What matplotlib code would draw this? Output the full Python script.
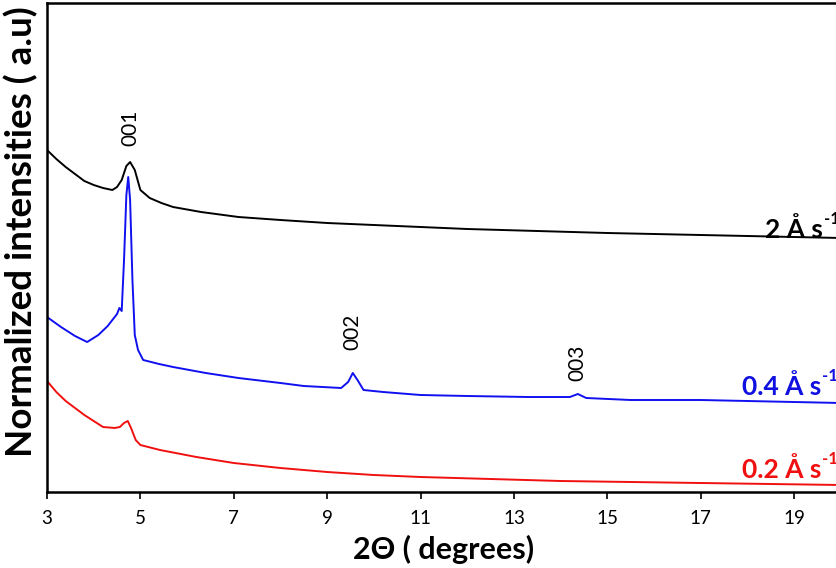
import matplotlib
matplotlib.use("Agg")
import matplotlib.pyplot as plt

plt.rcParams['font.family'] = ['Lato', 'DejaVu Sans']

# 2 Å/s series
x_black = [3.0, 3.2, 3.4, 3.6, 3.8, 4.0, 4.2, 4.4, 4.5, 4.6, 4.7, 4.78, 4.88, 5.0, 5.2, 5.45,
           5.7, 6.3, 7.1, 8.0, 9.0, 10.5, 12.0, 13.5, 15.0, 17.0, 19.0, 20.0]
y_black = [3.42, 3.33, 3.25, 3.18, 3.11, 3.07, 3.04, 3.02, 3.05, 3.12, 3.26, 3.30, 3.22, 3.02,
           2.94, 2.89, 2.85, 2.80, 2.75, 2.72, 2.69, 2.66, 2.63, 2.61, 2.59, 2.57, 2.55, 2.54]

# 0.4 Å/s series
x_blue = [3.0, 3.3, 3.6, 3.86, 4.1, 4.3, 4.5, 4.55, 4.6, 4.65, 4.7, 4.74, 4.78, 4.83, 4.88,
          4.95, 5.06, 5.4, 5.7, 6.4, 7.1, 8.0, 8.5, 9.3, 9.45, 9.55, 9.65, 9.78, 10.2, 11.0,
          12.0, 13.3, 14.2, 14.37, 14.55, 15.5, 17.0, 18.0, 19.0, 20.0]
y_blue = [1.75, 1.65, 1.56, 1.50, 1.57, 1.66, 1.78, 1.84, 1.81, 2.32, 2.97, 3.15, 2.92, 2.12,
          1.57, 1.42, 1.32, 1.28, 1.25, 1.19, 1.14, 1.09, 1.06, 1.04, 1.10, 1.19, 1.12, 1.02,
          1.00, 0.97, 0.96, 0.95, 0.95, 0.98, 0.94, 0.92, 0.92, 0.91, 0.90, 0.89]

# 0.2 Å/s series
x_red = [3.0, 3.2, 3.4, 3.6, 3.8, 4.0, 4.2, 4.45, 4.56, 4.65, 4.73, 4.8, 4.9, 5.0, 5.42, 6.2,
         7.0, 8.0, 9.0, 10.0, 11.0, 12.5, 14.0, 15.5, 17.0, 18.5, 20.0]
y_red = [1.11, 1.00, 0.91, 0.84, 0.77, 0.71, 0.65, 0.64, 0.65, 0.69, 0.71, 0.64, 0.52, 0.47,
         0.42, 0.35, 0.29, 0.24, 0.20, 0.17, 0.15, 0.13, 0.11, 0.10, 0.09, 0.08, 0.07]

xticks = [3, 5, 7, 9, 11, 13, 15, 17, 19]
peak_labels = ['001', '002', '003']
peak_x = [4.78, 9.55, 14.35]
peak_y = [3.64, 1.60, 1.29]

series_labels = ['2 Å s', '0.4 Å s', '0.2 Å s']
label_x = [18.37, 17.88, 17.88]
label_y = [2.62, 1.05, 0.22]
label_colors = ['black', '#1010e0', '#f01010']

fig = plt.figure(figsize=(8.36, 5.68), dpi=100)
ax = fig.add_axes([47 / 836, 76 / 568, 793.7 / 836, 489.5 / 568])

ax.plot(x_black, y_black, color='black', lw=1.4)
ax.plot(x_blue, y_blue, color='#1010f0', lw=1.4)
ax.plot(x_red, y_red, color='#f01010', lw=1.4)

ax.set_xlim(3, 20)
ax.set_ylim(0, 4.895)
ax.set_xticks(xticks)
ax.set_xticklabels([str(t) for t in xticks], fontsize=13.5)
ax.set_yticks([])
ax.tick_params(axis='x', direction='out', length=5, width=1.2, pad=8)
for s in ax.spines.values():
    s.set_linewidth(1.8)

for lab, px, py in zip(peak_labels, peak_x, peak_y):
    ax.text(px, py, lab, rotation=90, ha='center', va='center', fontsize=15)

for lab, lx, ly, c in zip(series_labels, label_x, label_y, label_colors):
    t = ax.text(lx, ly, lab, color=c, fontsize=19, fontweight='bold',
                ha='left', va='center')
    ax.annotate('-1', xy=(1.0, 0.62), xycoords=t, xytext=(1, 0),
                textcoords='offset points', color=c, fontsize=12,
                fontweight='bold', ha='left', va='bottom')

ax.set_xlabel('2Θ ( degrees)', fontsize=22, fontweight='bold', labelpad=6)
ax.set_ylabel('Normalized intensities ( a.u)', fontsize=26.5, fontweight='bold')
ax.yaxis.set_label_coords(-0.0113, 0.531)

fig.savefig('out.png', dpi=100)
